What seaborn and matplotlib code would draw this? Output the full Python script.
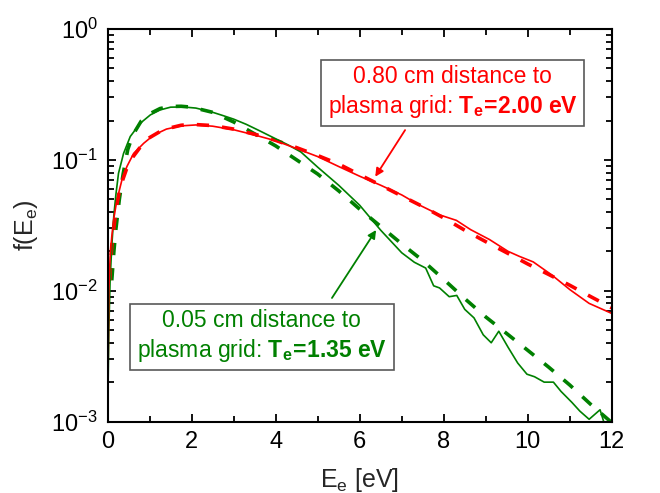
import pandas as pd
import matplotlib
matplotlib.use("Agg")
import matplotlib.pyplot as plt
import seaborn as sns
import numpy as np

# Measured EEDF, 0.80 cm from plasma grid (red, solid)
red_E = [0.01, 0.03, 0.06, 0.1, 0.15, 0.22, 0.34, 0.46, 0.62, 0.86, 1.1, 1.4, 1.75, 2.1, 2.5,
         3.0, 3.5, 4.0, 4.5, 5.0, 5.5, 6.0, 6.5, 7.0, 7.4, 7.9, 8.3, 8.64, 9.09, 9.53, 9.8,
         10.13, 10.57, 11.0, 11.46, 12.0]
red_f = [0.002, 0.010, 0.018, 0.026, 0.036, 0.049, 0.070, 0.089, 0.112, 0.134, 0.155, 0.172,
         0.182, 0.185, 0.181, 0.170, 0.155, 0.140, 0.122, 0.106, 0.089, 0.075, 0.064, 0.054,
         0.0455, 0.038, 0.0345, 0.0293, 0.0246, 0.0200, 0.0183, 0.0166, 0.0132, 0.0102,
         0.0080, 0.0067]

# Maxwellian fit, Te = 2.00 eV (red, dashed)
red_fit_E = [0.05, 0.1, 0.2, 0.3, 0.45, 0.6, 0.8, 1.0, 1.25, 1.5, 1.75, 2.0, 2.5, 3.0, 3.5,
             4.0, 4.5, 5.0, 5.5, 6.0, 6.5, 7.0, 7.5, 8.0, 8.5, 9.0, 9.5, 10.0, 10.5, 11.0,
             11.5, 12.0]
red_fit_f = [0.012, 0.022, 0.042, 0.062, 0.085, 0.105, 0.128, 0.148, 0.165, 0.176, 0.184,
             0.187, 0.183, 0.172, 0.157, 0.141, 0.124, 0.108, 0.093, 0.077, 0.064, 0.053,
             0.044, 0.036, 0.029, 0.0237, 0.0195, 0.016, 0.0133, 0.011, 0.009, 0.0074]

# Measured EEDF, 0.05 cm from plasma grid (green, solid)
green_E = [0.0, 0.03, 0.06, 0.1, 0.15, 0.2, 0.26, 0.38, 0.54, 0.78, 1.02, 1.25, 1.5, 1.8,
           2.1, 2.45, 2.75, 3.0, 3.3, 3.6, 4.0, 4.3, 4.6, 5.0, 5.5, 6.0, 6.5, 7.0, 7.3,
           7.57, 7.76, 7.9, 8.13, 8.31, 8.5, 8.72, 8.94, 9.13, 9.31, 9.53, 9.76, 9.98,
           10.16, 10.39, 10.61, 10.79, 11.05, 11.24, 11.46, 11.72, 11.85]
green_f = [0.001, 0.005, 0.012, 0.022, 0.038, 0.055, 0.079, 0.112, 0.151, 0.191, 0.221,
           0.241, 0.253, 0.254, 0.249, 0.234, 0.218, 0.205, 0.187, 0.168, 0.145, 0.130,
           0.115, 0.088, 0.064, 0.045, 0.029, 0.0195, 0.0165, 0.0149, 0.0109, 0.0105,
           0.0090, 0.0092, 0.0072, 0.0062, 0.0046, 0.0040, 0.0049, 0.0037, 0.0028, 0.0023,
           0.0022, 0.0020, 0.0020, 0.0017, 0.0014, 0.0012, 0.00104, 0.00123, 0.0009]

# Maxwellian fit, Te = 1.35 eV (green, dashed)
green_fit_E = [0.1, 0.15, 0.2, 0.28, 0.37, 0.48, 0.6, 0.8, 1.0, 1.25, 1.5, 1.75, 2.0, 2.5,
               3.0, 3.5, 4.0, 4.5, 5.0, 5.5, 6.0, 6.5, 7.0, 7.5, 8.0, 8.5, 9.0, 9.5, 10.0,
               10.5, 11.0, 11.5, 12.0]
green_fit_f = [0.012, 0.020, 0.030, 0.050, 0.078, 0.120, 0.155, 0.198, 0.225, 0.247, 0.256,
               0.257, 0.253, 0.231, 0.195, 0.158, 0.128, 0.100, 0.078, 0.058, 0.042, 0.031,
               0.0228, 0.017, 0.0122, 0.0087, 0.0063, 0.0047, 0.0035, 0.0026, 0.0019,
               0.00135, 0.00098]

RED = "#ff0000"
GREEN = "#008000"

sns.set_style("ticks")
plt.rcParams["font.family"] = ["Liberation Sans", "DejaVu Sans"]
plt.rcParams["mathtext.fontset"] = "custom"
plt.rcParams["mathtext.rm"] = "Liberation Sans"
plt.rcParams["mathtext.it"] = "Liberation Sans:italic"
plt.rcParams["mathtext.bf"] = "Liberation Sans:bold"

fig = plt.figure(figsize=(6.6, 4.93), dpi=100)
ax = fig.add_axes([0.163, 0.145, 0.764, 0.796])

red_df = pd.DataFrame({"E": red_E, "f": red_f})
red_fit_df = pd.DataFrame({"E": red_fit_E, "f": red_fit_f})
green_df = pd.DataFrame({"E": green_E, "f": green_f})
green_fit_df = pd.DataFrame({"E": green_fit_E, "f": green_fit_f})

sns.lineplot(data=green_fit_df, x="E", y="f", ax=ax, color=GREEN, lw=2.6, estimator=None)
sns.lineplot(data=red_fit_df, x="E", y="f", ax=ax, color=RED, lw=2.6, estimator=None)
sns.lineplot(data=green_df, x="E", y="f", ax=ax, color=GREEN, lw=1.2, estimator=None)
sns.lineplot(data=red_df, x="E", y="f", ax=ax, color=RED, lw=1.2, estimator=None)
for ln in ax.lines[:2]:
    ln.set_dashes((3.4, 3.6))

ax.set_yscale("log")
ax.set_xlim(0, 12)
ax.set_ylim(1e-3, 1)
ax.set_xticks(np.arange(0, 13, 2))
ax.set_xticks(np.arange(1, 12, 2), minor=True)

for sp in ax.spines.values():
    sp.set_linewidth(1.5)
    sp.set_color("black")
ax.tick_params(which="both", direction="in", top=True, right=True, width=1.3,
               labelsize=17, colors="black")
ax.tick_params(which="major", length=6, pad=7)
ax.tick_params(which="minor", length=4)

ax.set_xlabel(r"E$_\mathregular{e}$ [eV]", fontsize=18, labelpad=9)
ax.set_ylabel(r"f(E$_\mathregular{e}$)", fontsize=18, labelpad=8)

box = dict(boxstyle="square,pad=0.3", fc="white", ec="0.35", lw=1.2)
ax.text(8.21, 0.33, "0.80 cm distance to\nplasma grid: " + r"$\mathbf{T_e\!=\!2.00\ eV}$",
        color=RED, fontsize=16.5, ha="center", va="center", linespacing=1.25, bbox=box)
ax.text(3.67, 0.0045, "0.05 cm distance to\nplasma grid: " + r"$\mathbf{T_e\!=\!1.35\ eV}$",
        color=GREEN, fontsize=16.5, ha="center", va="center", linespacing=1.25, bbox=box)

ax.annotate("", xy=(6.37, 0.0744), xytext=(7.08, 0.169),
            arrowprops=dict(arrowstyle="-|>", color=RED, lw=1.3, mutation_scale=12,
                            shrinkA=0, shrinkB=0))
ax.annotate("", xy=(6.39, 0.0291), xytext=(5.34, 0.0088),
            arrowprops=dict(arrowstyle="-|>", color=GREEN, lw=1.3, mutation_scale=12,
                            shrinkA=0, shrinkB=0))

fig.savefig("out.png", dpi=100)
